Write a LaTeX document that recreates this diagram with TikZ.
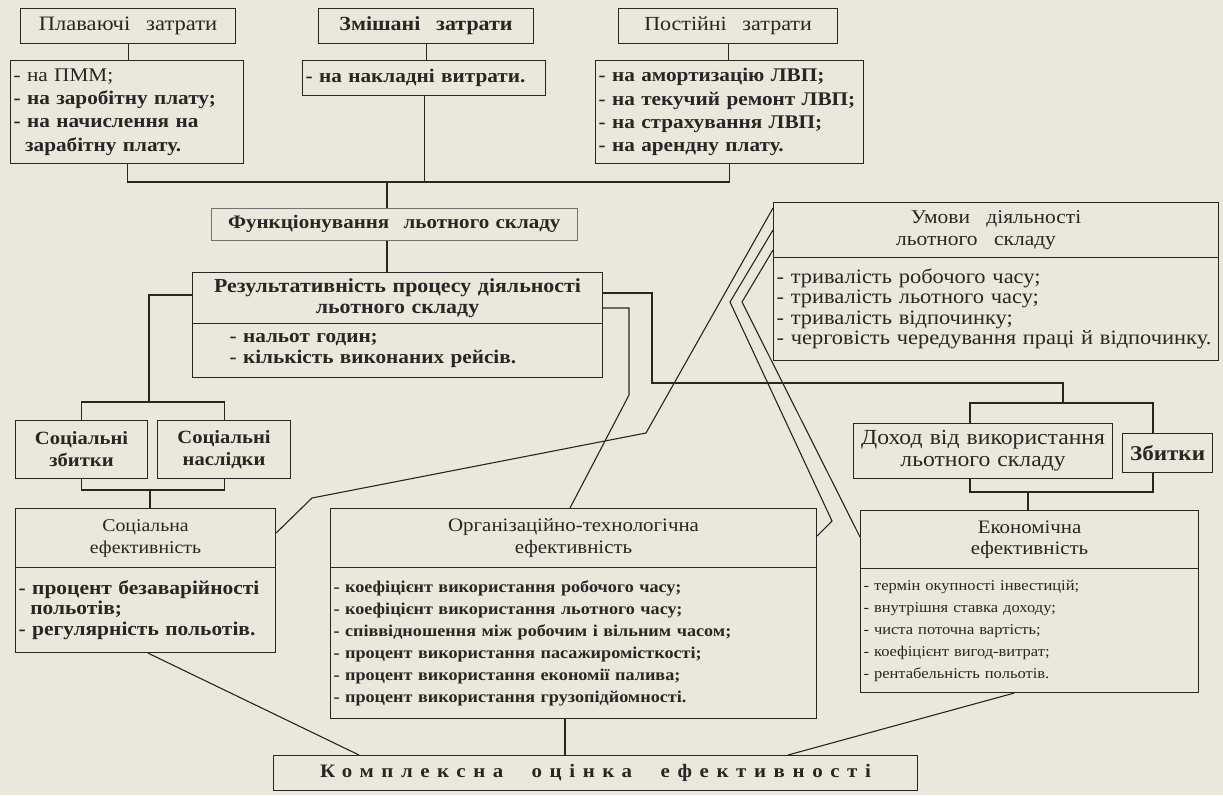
\documentclass[tikz,border=0pt]{standalone}
\usepackage{fontspec}
\setmainfont[FakeStretch=1.1]{Liberation Serif}
\usetikzlibrary{calc}
\definecolor{paper}{RGB}{234,231,220}
\definecolor{ink}{RGB}{40,38,36}
\begin{document}
\begin{tikzpicture}[x=1pt,y=-1pt,
  box/.style={draw=ink, line width=1.1pt, fill=paper, anchor=north west, inner xsep=3pt, inner ysep=1pt, text=ink},
  thinbox/.style={box, draw=ink!65, line width=0.6pt},
  ln/.style={draw=ink, line width=1.1pt},
]
\fill[paper] (0,0) rectangle (1223,795);
\useasboundingbox (0,0) rectangle (1223,795);

% ---------- top row ----------
\node[box, text width=209, minimum height=35, align=center, font=\fontsize{20.5}{22}\selectfont] (plav) at (20,8) {Плаваючі\hspace{9pt} затрати};
\node[box, text width=209, minimum height=35, align=center, font=\fontsize{20}{22}\selectfont\bfseries] (zmish) at (318,8) {Змішані\hspace{9pt} затрати};
\node[box, text width=213, minimum height=35, align=center, font=\fontsize{20}{22}\selectfont] (post) at (618,8) {Постійні\hspace{9pt} затрати};

\node[box, text width=227, minimum height=103, align=left, font=\fontsize{19.3}{23.3}\selectfont\bfseries] (l1) at (10,60)
  {{\mdseries - на ПММ;}\\- на заробітну плату;\\- на начислення на\\\hspace*{0.6em}зарабітну плату.};
\node[box, text width=237, minimum height=35, align=left, font=\fontsize{19.3}{22}\selectfont\bfseries] (l2) at (302,60)
  {- на накладні витрати.};
\node[box, text width=262, minimum height=103, align=left, font=\fontsize{19.3}{23.3}\selectfont\bfseries] (l3) at (595,60)
  {- на амортизацію ЛВП;\\- на текучий ремонт ЛВП;\\- на страхування ЛВП;\\- на арендну плату.};

% ---------- middle ----------
\node[thinbox, text width=360, minimum height=32, align=center, font=\fontsize{19.1}{22}\selectfont\bfseries] (funk) at (211,208)
  {Функціонування\hspace{8pt} льотного складу};
\node[box, text width=404, minimum height=51, align=center, font=\fontsize{19.9}{21}\selectfont\bfseries] (resT) at (192,272)
  {Результативність процесу діяльності\\льотного складу};
\node[box, text width=404, minimum height=54, align=left, font=\fontsize{19.3}{21}\selectfont\bfseries] (resI) at (192,323)
  {\hspace*{34pt}- нальот годин;\\\hspace*{34pt}- кількість виконаних рейсів.};

\node[box, text width=439, minimum height=55, align=center, font=\fontsize{19.5}{22}\selectfont] (umT) at (773,202)
  {Умови\hspace{10pt} діяльності\hspace*{38pt}\\льотного\hspace{10pt} складу\hspace*{40pt}};
\node[box, text width=439, minimum height=103, align=left, font=\fontsize{20.4}{20.5}\selectfont] (umI) at (773,257)
  {- тривалість робочого часу;\\- тривалість льотного часу;\\- тривалість відпочинку;\\- черговість чередування праці й відпочинку.};

% ---------- social ----------
\node[box, text width=126, minimum height=58, align=center, font=\fontsize{18.7}{22}\selectfont\bfseries] (sz) at (15,420)
  {Соціальні\\збитки};
\node[box, text width=127, minimum height=58, align=center, font=\fontsize{18.7}{22}\selectfont\bfseries] (sn) at (157,420)
  {Соціальні\\наслідки};
\node[box, text width=254, minimum height=59, align=center, font=\fontsize{18}{22}\selectfont] (seT) at (15,508)
  {Соціальна\\ефективність};
\node[box, text width=254, minimum height=85, align=left, font=\fontsize{19.5}{20.5}\selectfont\bfseries] (seI) at (15,567)
  {- процент безаварійності\\\hspace*{0.6em}польотів;\\- регулярність польотів.};

% ---------- org ----------
\node[box, text width=480, minimum height=59, align=center, font=\fontsize{19}{22}\selectfont] (orgT) at (330,508)
  {Організаційно-технологічна\\ефективність};
\node[box, text width=480, minimum height=151, align=left, font=\fontsize{16.5}{22}\selectfont\bfseries] (orgI) at (330,567)
  {- коефіцієнт використання робочого часу;\\- коефіцієнт використання льотного часу;\\- співвідношення між робочим і вільним часом;\\- процент використання пасажиромісткості;\\- процент використання економії палива;\\- процент використання грузопідйомності.};

% ---------- economic ----------
\node[box, text width=253, minimum height=55, align=center, font=\fontsize{21.5}{22}\selectfont] (dohod) at (853,423)
  {Доход від використання\\льотного складу};
\node[box, text width=84, minimum height=39, align=center, font=\fontsize{21}{22}\selectfont\bfseries] (zbyt) at (1122,433)
  {Збитки};
\node[box, text width=332, minimum height=58, align=center, font=\fontsize{19}{21}\selectfont] (ecT) at (860,510)
  {Економічна\\ефективність};
\node[box, text width=332, minimum height=124, align=left, font=\fontsize{15}{22}\selectfont] (ecI) at (860,568)
  {- термін окупності інвестицій;\\- внутрішня ставка доходу;\\- чиста поточна вартість;\\- коефіцієнт вигод-витрат;\\- рентабельність польотів.};

% ---------- bottom ----------
\node[box, text width=638, minimum height=35, align=center, font=\fontsize{19}{22}\selectfont\bfseries\addfontfeatures{LetterSpace=40}] (kompl) at (273,755)
  {Комплексна\hspace{22pt} оцінка\hspace{22pt} ефективності};

% ---------- coordinates ----------
\coordinate (b1) at (0,182);
\coordinate (tp) at (387,182);
\coordinate (rl) at (149,295);
\coordinate (sbt) at (150,402);
\coordinate (sbb) at (150,490);
\coordinate (c0) at (0,533);
\coordinate (c1) at (312,498);
\coordinate (c2) at (646,433);
\coordinate (c3) at (0,208);
\coordinate (a0) at (0,293);
\coordinate (a1) at (652,293);
\coordinate (a2) at (652,383);
\coordinate (a3) at (1063,383);
\coordinate (a4) at (1063,403);
\coordinate (dL) at (970,0);
\coordinate (dR) at (1153,0);
\coordinate (eb) at (1028,492);
\coordinate (bb0) at (0,308);
\coordinate (bb1) at (629,308);
\coordinate (bb2) at (629,395);
\coordinate (bb3) at (570,0);
\coordinate (d0) at (0,230);
\coordinate (d1) at (730,302);
\coordinate (d2) at (832,521);
\coordinate (d3) at (0,536);
\coordinate (e0) at (0,250);
\coordinate (e1) at (742,302);
\coordinate (e2) at (0,537);
\coordinate (k1) at (148,0);
\coordinate (k2) at (359,0);
\coordinate (k3) at (565,0);
\coordinate (k4) at (1014,0);
\coordinate (k5) at (788,0);

% ---------- connectors ----------
\draw[ln] (plav.south) -- (plav.south |- l1.north);
\draw[ln] (zmish.south) -- (zmish.south |- l2.north);
\draw[ln] (post.south) -- (post.south |- l3.north);
\draw[ln] (l1.south) -- (l1.south |- b1) -- (l3.south |- b1) -- (l3.south);
\draw[ln] (l2.south) -- (l2.south |- b1);
\draw[ln] (tp) -- (tp |- funk.north);
\draw[ln] (funk.south -| tp) -- (tp |- resT.north);

\draw[ln] (resT.west |- rl) -- (rl) -- (rl |- sbt);
\draw[ln] (sz.north) |- (sbt) -| (sn.north);
\draw[ln] (sz.south) |- (sbb) -| (sn.south);
\draw[ln] (sbb) -- (sbb |- seT.north);

\draw[ln] (seT.east |- c0) -- (c1) -- (c2) -- (umT.west |- c3);
\draw[ln] (resT.east |- a0) -- (a1) -- (a2) -- (a3) -- (a4);
\draw[ln] (dohod.north -| dL) |- (a4) -| (zbyt.north -| dR);
\draw[ln] (dohod.south -| dL) |- (eb) -| (zbyt.south -| dR);
\draw[ln] (eb) -- (eb |- ecT.north);
\draw[ln] (resT.east |- bb0) -- (bb1) -- (bb2) -- (orgT.north -| bb3);
\draw[ln] (umT.west |- d0) -- (d1) -- (d2) -- (orgT.east |- d3);
\draw[ln] (umT.west |- e0) -- (e1) -- (ecT.west |- e2);

\draw[ln] (seI.south -| k1) -- (kompl.north -| k2);
\draw[ln] (orgI.south -| k3) -- (kompl.north -| k3);
\draw[ln] (ecI.south -| k4) -- (kompl.north -| k5);
\end{tikzpicture}
\end{document}
